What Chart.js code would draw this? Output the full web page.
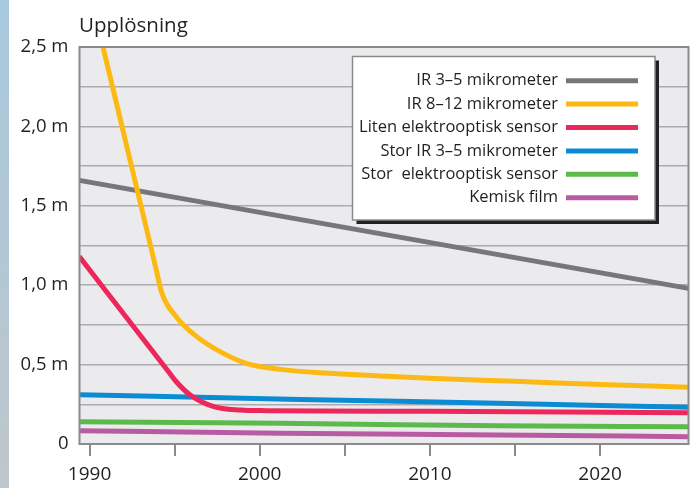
<!DOCTYPE html>
<html>
<head>
<meta charset="utf-8">
<script src="https://cdn.jsdelivr.net/npm/chart.js@4/dist/chart.umd.min.js"></script>
<style>
    html, body { margin: 0; padding: 0; background: #fff; }
    #wrap { position: relative; width: 693px; height: 488px; }
    #strip {
        position: absolute; left: 0; top: 0; width: 9px; height: 488px;
        background: linear-gradient(#a8c9de, #b4c7d3 60%, #c0c6cb);
    }
    canvas { position: absolute; left: 0; top: 0; }
</style>
</head>
<body>
<div id="wrap">
    <div id="strip"></div>
    <canvas id="chart" width="693" height="488"></canvas>
</div>
<script>
const seriesNames = [
    'IR 3–5 mikrometer',
    'IR 8–12 mikrometer',
    'Liten elektrooptisk sensor',
    'Stor IR 3–5 mikrometer',
    'Stor  elektrooptisk sensor',
    'Kemisk film'
];
const seriesColors = ['#77777b', '#fdb913', '#ec275b', '#0a8bd3', '#5cb94c', '#b95ba2'];

// years and values (metres)
const grayYears = [1989.4, 2025.2];
const grayValues = [1.66, 0.98];

const yellowYears = [1990.5, 1993.9, 1994.25, 1995.1, 1996.3, 1997.7, 1999.2, 2001.2, 2004.1, 2007.1, 2010, 2015, 2020, 2025.2];
const yellowValues = [2.63, 1.107, 0.95, 0.80, 0.676, 0.58, 0.508, 0.47, 0.445, 0.428, 0.414, 0.395, 0.375, 0.357];

const redYears = [1989.4, 1994.7, 1995.1, 1995.9, 1997.3, 1998.85, 2000.4, 2010, 2025.2];
const redValues = [1.18, 0.447, 0.392, 0.31, 0.235, 0.214, 0.21, 0.206, 0.197];

const blueYears = [1989.4, 2002.4, 2014, 2025.2];
const blueValues = [0.31, 0.281, 0.256, 0.231];

const greenYears = [1989.4, 2001.2, 2014, 2025.2];
const greenValues = [0.14, 0.13, 0.115, 0.109];

const purpleYears = [1989.4, 2001.2, 2014, 2025.2];
const purpleValues = [0.084, 0.067, 0.057, 0.046];

const xTicks = [1990, 1995, 2000, 2005, 2010, 2015, 2020];
const xMin = 1989.41, xMax = 2025.2;
const yMin = 0, yMax = 2.5, yStep = 0.25;

const allYears = [grayYears, yellowYears, redYears, blueYears, greenYears, purpleYears];
const allValues = [grayValues, yellowValues, redValues, blueValues, greenValues, purpleValues];
const drawOrder = [3, 2, 1, 4, 5, 6];

const FONT = '"Open Sans", "Noto Sans", sans-serif';
const INK = '#231f20';

function points(years, values) {
    return years.map((y, i) => ({ x: y, y: values[i] }));
}

const datasets = seriesNames.map((name, i) => ({
    label: name,
    data: points(allYears[i], allValues[i]),
    borderColor: seriesColors[i],
    borderWidth: 5,
    pointRadius: 0,
    cubicInterpolationMode: 'monotone',
    clip: 0,
    order: drawOrder[i]
}));

// plot background, frame, title and the boxed legend
const decor = {
    id: 'decor',
    beforeDraw(chart) {
        const { ctx, chartArea: a } = chart;
        ctx.save();
        ctx.fillStyle = '#ebebed';
        ctx.fillRect(a.left, a.top, a.right - a.left, a.bottom - a.top);
        ctx.restore();
    },
    beforeDatasetsDraw(chart) {
        const { ctx, chartArea: a } = chart;
        ctx.save();
        ctx.beginPath();
        ctx.rect(a.left, a.top, a.right - a.left, a.bottom - a.top);
        ctx.clip();
    },
    afterDatasetsDraw(chart) {
        chart.ctx.restore();
    },
    afterDraw(chart) {
        const { ctx, chartArea: a } = chart;
        ctx.save();
        ctx.strokeStyle = '#8a8a8c';
        ctx.lineWidth = 2;
        ctx.strokeRect(a.left, a.top, a.right - a.left, a.bottom - a.top);

        // title
        ctx.fillStyle = INK;
        ctx.font = '20.5px ' + FONT;
        ctx.textBaseline = 'alphabetic';
        ctx.textAlign = 'left';
        ctx.fillText('Upplösning', 79, 32);

        // legend box with shadow
        const bx = 352.5, by = 56.5, bw = 302.5, bh = 163.5;
        ctx.fillStyle = '#231f20';
        ctx.fillRect(bx + 4, by + 4, bw, bh);
        ctx.fillStyle = '#fff';
        ctx.fillRect(bx, by, bw, bh);
        ctx.strokeStyle = '#8a8a8c';
        ctx.lineWidth = 1.5;
        ctx.strokeRect(bx, by, bw, bh);

        ctx.font = '16.5px ' + FONT;
        ctx.textAlign = 'right';
        ctx.textBaseline = 'middle';
        seriesNames.forEach((name, i) => {
            const y = 80.7 + i * 23.4;
            ctx.fillStyle = INK;
            ctx.fillText(name, 558, y);
            ctx.strokeStyle = seriesColors[i];
            ctx.lineWidth = 5;
            ctx.beginPath();
            ctx.moveTo(566, y);
            ctx.lineTo(638, y);
            ctx.stroke();
        });
        ctx.restore();
    }
};

new Chart(document.getElementById('chart'), {
    type: 'line',
    data: { datasets },
    options: {
        responsive: false,
        animation: false,
        events: [],
        layout: { padding: { top: 47, right: 4.5, bottom: 0, left: 0 } },
        plugins: { legend: { display: false }, tooltip: { enabled: false } },
        scales: {
            x: {
                type: 'linear',
                min: xMin,
                max: xMax,
                afterBuildTicks: scale => { scale.ticks = xTicks.map(v => ({ value: v })); },
                afterFit: scale => { scale.height = 44; },
                grid: { drawOnChartArea: false, drawTicks: true, tickLength: 12, color: '#8a8a8c', lineWidth: 2 },
                border: { display: false },
                ticks: {
                    padding: 7,
                    maxRotation: 0,
                    autoSkip: false,
                    color: INK,
                    font: { family: FONT, size: 19 },
                    callback: v => (v % 10 === 0 ? String(v) : '')
                }
            },
            y: {
                min: yMin,
                max: yMax,
                afterFit: scale => { scale.width = 79.5; },
                grid: { drawTicks: false, color: '#ababad', lineWidth: 1.5 },
                border: { display: false },
                ticks: {
                    stepSize: yStep,
                    padding: 11,
                    autoSkip: false,
                    color: INK,
                    font: { family: FONT, size: 18.5 },
                    callback: v => {
                        if (Math.abs(v * 2 - Math.round(v * 2)) > 1e-6) return '';
                        return v === 0 ? '0' : v.toFixed(1).replace('.', ',') + ' m';
                    }
                }
            }
        }
    },
    plugins: [decor]
});
</script>
</body>
</html>
